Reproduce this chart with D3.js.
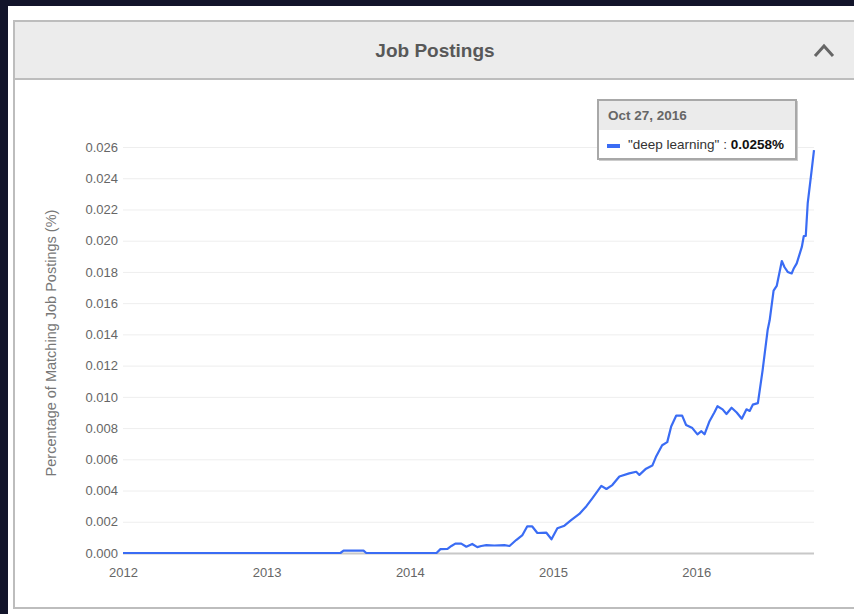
<!DOCTYPE html>
<html>
<head>
<meta charset="utf-8">
<script src="https://cdn.jsdelivr.net/npm/d3@7"></script>
<style>
  body { margin:0; background:#12142a; }
  svg { display:block; font-family:"Liberation Sans", Arial, sans-serif; }
</style>
</head>
<body>
<div id="chart"></div>
<script>
var width = 854;
var height = 614;
let background = "#12142a";
let line_color = "#3a6cf4";
let text_color = "#666";

// weekly-ish readings, "deep learning" share of job postings (%)
let dates = ["2012-01-01","2013-07-08","2013-07-16","2013-09-05","2013-09-12",
  "2014-03-10","2014-03-20","2014-04-07","2014-04-17","2014-04-27","2014-05-12",
  "2014-05-25","2014-06-09","2014-06-22","2014-07-02","2014-07-15","2014-08-04",
  "2014-08-30","2014-09-12","2014-09-29","2014-10-15","2014-10-27","2014-11-09",
  "2014-11-22","2014-12-15","2014-12-28","2015-01-12","2015-01-30","2015-02-16",
  "2015-03-09","2015-03-27","2015-04-11","2015-05-04","2015-05-17","2015-06-01",
  "2015-06-19","2015-07-14","2015-08-01","2015-08-09","2015-08-26","2015-09-11",
  "2015-09-21","2015-10-06","2015-10-19","2015-10-29","2015-11-11","2015-11-26",
  "2015-12-06","2015-12-22","2016-01-04","2016-01-14","2016-01-22","2016-02-03",
  "2016-02-16","2016-02-24","2016-03-08","2016-03-18","2016-03-31","2016-04-13",
  "2016-04-26","2016-05-08","2016-05-16","2016-05-24","2016-06-06","2016-06-18",
  "2016-07-01","2016-07-06","2016-07-16","2016-07-24","2016-08-06","2016-08-13",
  "2016-08-21","2016-08-31","2016-09-05","2016-09-13","2016-09-26","2016-10-01",
  "2016-10-06","2016-10-11","2016-10-21","2016-10-27"];
let values = [0,0,0.00015,0.00015,0,
  0,0.00025,0.00027,0.00045,0.0006,0.0006,
  0.0004,0.00058,0.00038,0.00045,0.0005,0.00048,
  0.0005,0.00045,0.00083,0.00115,0.0017,0.0017,
  0.00128,0.0013,0.00088,0.00158,0.00175,0.0021,
  0.0025,0.003,0.0035,0.0043,0.0041,0.00435,
  0.0049,0.0051,0.0052,0.005,0.0054,0.0056,
  0.0062,0.0069,0.0071,0.0081,0.0088,0.0088,
  0.0082,0.008,0.0076,0.0078,0.0076,0.0084,
  0.009,0.0094,0.0092,0.0089,0.0093,0.009,
  0.0086,0.0092,0.0091,0.0095,0.0096,0.0117,
  0.0143,0.0149,0.0168,0.0171,0.0187,0.0183,
  0.018,0.0179,0.0182,0.01855,0.0196,0.0203,
  0.0203,0.0224,0.0245,0.0258];
let y_ticks = [0,0.002,0.004,0.006,0.008,0.010,0.012,0.014,0.016,0.018,0.020,0.022,0.024,0.026];
let x_ticks = ["2012","2013","2014","2015","2016"];
let title = "Job Postings";
let y_label = "Percentage of Matching Job Postings (%)";
let tip_date = "Oct 27, 2016";
let tip_series = "\"deep learning\" : ";
let tip_value = "0.0258%";

var parse = d3.timeParse("%Y-%m-%d");
var data = dates.map(function(d, i){ return {date: parse(d), value: values[i]}; });

var svg = d3.select("#chart").append("svg")
              .attr("width", width)
              .attr("height", height)
              .style("background", background);

//----------------------PANEL----------------------------
svg.append("rect")
  .attr("x", 8).attr("y", 6)
  .attr("width", width-8).attr("height", height-6)
  .style("fill", "#fff");

svg.append("rect")
  .attr("x", 14).attr("y", 21)
  .attr("width", width).attr("height", 587)
  .style("fill", "#fff")
  .style("stroke", "#bdbdbd")
  .style("stroke-width", 2);

svg.append("rect")
  .attr("x", 14).attr("y", 21)
  .attr("width", width).attr("height", 58)
  .style("fill", "#ececec")
  .style("stroke", "#bdbdbd")
  .style("stroke-width", 2);

svg.append("text")
  .attr("x", 435).attr("y", 57)
  .attr("text-anchor", "middle")
  .attr("font-size", 19)
  .attr("font-weight", "bold")
  .style("fill", "#585858")
  .text(title);

// chevron
svg.append("polyline")
  .attr("points", "815,56 824,46 833,56")
  .style("fill", "none")
  .style("stroke", "#666")
  .style("stroke-width", 3);

//----------------------SCALES----------------------------
var x = d3.scaleTime()
  .domain([parse("2012-01-01"), parse("2016-10-27")])
  .range([123, 814]);

var y = d3.scaleLinear()
  .domain([0, 0.026])
  .range([553, 147]);

// grid + y labels
var y_axis = d3.axisLeft(y)
  .tickValues(y_ticks)
  .tickFormat(d3.format(".3f"))
  .tickSize(-(814-123))
  .tickPadding(5);

var g_y = svg.append("g")
  .attr("transform", "translate(123,0)")
  .call(y_axis);
g_y.select(".domain").remove();
g_y.selectAll(".tick line")
  .style("stroke", function(d){ return d == 0 ? "#c8c8c8" : "#eeeeee"; })
  .style("stroke-width", function(d){ return d == 0 ? 2 : 1; });
g_y.selectAll(".tick text")
  .attr("font-size", 13)
  .attr("font-family", "Liberation Sans, Arial, sans-serif")
  .style("fill", text_color);

// x labels
var x_axis = d3.axisBottom(x)
  .tickValues(x_ticks.map(function(t){ return parse(t+"-01-01"); }))
  .tickFormat(d3.timeFormat("%Y"))
  .tickSize(0)
  .tickPadding(15);

var g_x = svg.append("g")
  .attr("transform", "translate(0,553)")
  .call(x_axis);
g_x.select(".domain").remove();
g_x.selectAll(".tick text")
  .attr("font-size", 13)
  .attr("font-family", "Liberation Sans, Arial, sans-serif")
  .style("fill", text_color);

svg.append("text")
  .attr("transform", "translate(56,343) rotate(-90)")
  .attr("text-anchor", "middle")
  .attr("font-size", 14.5)
  .style("fill", "#777")
  .text(y_label);

//----------------------LINE----------------------------
var line = d3.line()
  .x(function(d){ return x(d.date); })
  .y(function(d){ return y(d.value); });

svg.append("path")
  .datum(data)
  .attr("d", line)
  .style("fill", "none")
  .style("stroke", line_color)
  .style("stroke-width", 2.2)
  .style("stroke-linejoin", "round");

//----------------------TOOLTIP----------------------------
var tip = svg.append("g").attr("transform", "translate(598,100)");

tip.append("rect")
  .attr("x", 1).attr("y", 1)
  .attr("width", 199).attr("height", 60)
  .style("fill", "#ccc");

tip.append("rect")
  .attr("width", 198).attr("height", 59)
  .style("fill", "#fff")
  .style("stroke", "#a8a8a8")
  .style("stroke-width", 2);

tip.append("rect")
  .attr("x", 1).attr("y", 1)
  .attr("width", 196).attr("height", 29)
  .style("fill", "#ebebeb");

tip.append("text")
  .attr("x", 10).attr("y", 20)
  .attr("font-size", 13.5)
  .attr("font-weight", "bold")
  .style("fill", "#666")
  .text(tip_date);

tip.append("rect")
  .attr("x", 9).attr("y", 44)
  .attr("width", 13).attr("height", 4)
  .style("fill", line_color);

var t = tip.append("text")
  .attr("x", 30).attr("y", 49)
  .attr("font-size", 13.5)
  .style("fill", "#333");
t.append("tspan").text(tip_series);
t.append("tspan").attr("font-weight", "bold").style("fill", "#111").text(tip_value);
</script>
</body>
</html>
